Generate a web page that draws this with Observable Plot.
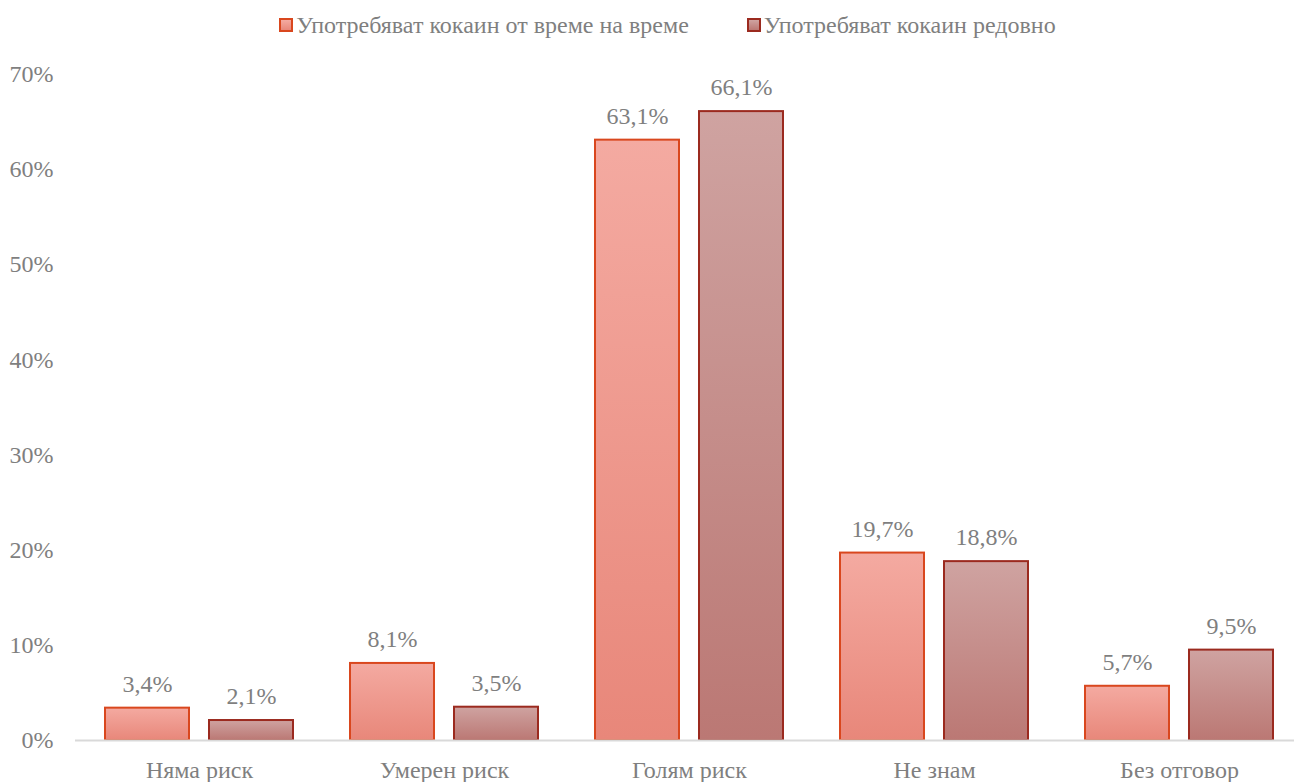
<!DOCTYPE html>
<html>
<head>
<meta charset="utf-8">
<script src="https://cdn.jsdelivr.net/npm/d3@7"></script>
<script src="https://cdn.jsdelivr.net/npm/@observablehq/plot@0.6"></script>
<style>
  html, body { margin: 0; padding: 0; background: #fff; }
  #wrap { width: 1294px; height: 782px; position: relative; overflow: hidden; font-family: "Liberation Serif", "Times New Roman", Times, serif; }
  #legend { height: 50px; display: flex; justify-content: center; align-items: center; color: #7f7f7f; font-size: 24px; padding-left: 41px; box-sizing: border-box; }
  .item { display: flex; align-items: center; }
  .item + .item { margin-left: 58px; }
  .sw { width: 14px; height: 14px; margin-right: 3px; box-sizing: border-box; border: 2px solid; }
  svg.plot { max-width: none !important; overflow: hidden; }
</style>
</head>
<body>
<div id="wrap">
  <div id="legend"></div>
  <div id="chart"></div>
</div>
<script>
const categories = ["Няма риск", "Умерен риск", "Голям риск", "Не знам", "Без отговор"];
const seriesNames = ["Употребяват кокаин от време на време", "Употребяват кокаин редовно"];
const occasional = [3.4, 8.1, 63.1, 19.7, 5.7];
const regular = [2.1, 3.5, 66.1, 18.8, 9.5];
const yTicks = [0, 10, 20, 30, 40, 50, 60, 70];

const FONT = '"Liberation Serif", "Times New Roman", Times, serif';
const colors = [
  {top: "#f4aaa1", bottom: "#e8877a", stroke: "#d9471e"},
  {top: "#cfa3a1", bottom: "#bb7874", stroke: "#9b2a1f"}
];

const dataA = categories.map((c, i) => ({cat: c, value: occasional[i]}));
const dataB = categories.map((c, i) => ({cat: c, value: regular[i]}));
const fmt = v => v.toFixed(1).replace(".", ",") + "%";

// legend
const legend = document.getElementById("legend");
seriesNames.forEach((name, i) => {
  const it = document.createElement("div");
  it.className = "item";
  const sw = document.createElement("div");
  sw.className = "sw";
  sw.style.background = `linear-gradient(${colors[i].top}, ${colors[i].bottom})`;
  sw.style.borderColor = colors[i].stroke;
  const tx = document.createElement("span");
  tx.textContent = name;
  it.appendChild(sw); it.appendChild(tx);
  legend.appendChild(it);
});

const barW = 84;
const groupW = 188;

const chart = Plot.plot({
  width: 1294,
  height: 732,
  marginLeft: 75,
  marginRight: 0,
  marginTop: 24,
  marginBottom: 42,
  style: {fontFamily: FONT, fontSize: "24px", color: "#7f7f7f", background: "#fff"},
  x: {domain: categories, range: [75, 1303], paddingInner: 0.234, paddingOuter: 0.117, label: null, tickSize: 0, tickPadding: 20},
  y: {domain: [0, 70], ticks: yTicks, tickFormat: d => d + "%", tickSize: 0, tickPadding: 22, label: null},
  marks: [
    Plot.barY(dataA, {x: "cat", y: "value", insetRight: groupW - barW, fill: "url(#gA)", stroke: colors[0].stroke, strokeWidth: 2}),
    Plot.barY(dataB, {x: "cat", y: "value", insetLeft: groupW - barW, fill: "url(#gB)", stroke: colors[1].stroke, strokeWidth: 2}),
    Plot.ruleY([0], {stroke: "#d9d9d9", strokeWidth: 2}),
    Plot.text(dataA, {x: "cat", y: "value", text: d => fmt(d.value), dx: -barW / 2 - 10, dy: -24, fill: "#7f7f7f", fontSize: 24}),
    Plot.text(dataB, {x: "cat", y: "value", text: d => fmt(d.value), dx: barW / 2 + 10, dy: -24, fill: "#7f7f7f", fontSize: 24})
  ]
});

// gradients
const svg = d3.select(chart);
const defs = svg.insert("defs", ":first-child");
[["gA", colors[0]], ["gB", colors[1]]].forEach(([id, c]) => {
  const g = defs.append("linearGradient").attr("id", id).attr("x1", 0).attr("y1", 0).attr("x2", 0).attr("y2", 1);
  g.append("stop").attr("offset", "0%").attr("stop-color", c.top);
  g.append("stop").attr("offset", "100%").attr("stop-color", c.bottom);
});
document.getElementById("chart").appendChild(chart);
</script>
</body>
</html>
